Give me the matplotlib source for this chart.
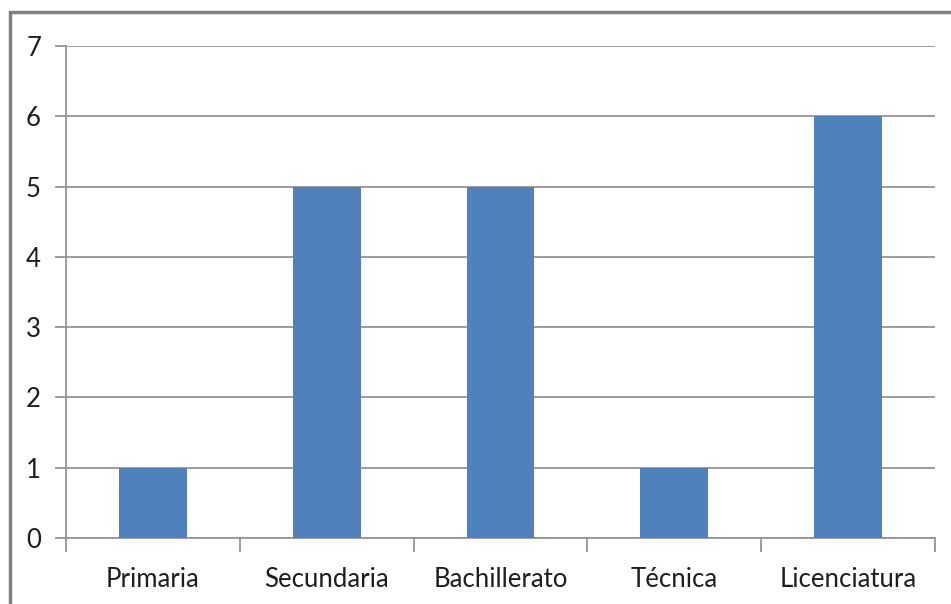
import matplotlib.pyplot as plt
from matplotlib.patches import Rectangle

categories = ["Primaria", "Secundaria", "Bachillerato", "Técnica", "Licenciatura"]
counts = [1, 5, 5, 1, 6]
y_ticks = [0, 1, 2, 3, 4, 5, 6, 7]

plt.rcParams['font.family'] = ['Lato', 'DejaVu Sans']

fig = plt.figure(figsize=(9.51, 6.04), dpi=100)
W, H = 951, 604
ax = fig.add_axes([66 / W, 1 - 538 / H, (935 - 66) / W, (538 - 46) / H])

grid_col = '#959595'
x = range(len(categories))
ax.bar(x, counts, width=0.39, color='#4F81BD', zorder=3)

ax.set_xlim(-0.5, len(categories) - 0.5)
ax.set_ylim(0, 7)
ax.set_yticks(y_ticks)
ax.yaxis.grid(True, color=grid_col, linewidth=1.3, zorder=0)

# category labels sit between boundary ticks
ax.set_xticks([i - 0.5 for i in range(len(categories) + 1)])
ax.set_xticklabels([])
ax.set_xticks(list(x), minor=True)
ax.set_xticklabels(categories, minor=True, fontsize=18.5, color='#1e1e1e')
ax.tick_params(axis='x', which='minor', length=0, pad=21)
ax.tick_params(axis='x', which='major', length=10, color=grid_col, width=1.3)
ax.tick_params(axis='y', length=8, color=grid_col, width=1.3, pad=10,
               labelsize=18.5, labelcolor='#1e1e1e')

for side in ['top', 'right']:
    ax.spines[side].set_visible(False)
for side in ['left', 'bottom']:
    ax.spines[side].set_color(grid_col)
    ax.spines[side].set_linewidth(1.3)

# outer frame of the chart (only top and left edges fall inside the image)
fig.patches.append(Rectangle((10 / W, -0.05), 1.1, 1 - 12 / H + 0.05,
                             transform=fig.transFigure, fill=False,
                             edgecolor='#7f7f7f', linewidth=2.5))

fig.savefig("out.png", dpi=100)
